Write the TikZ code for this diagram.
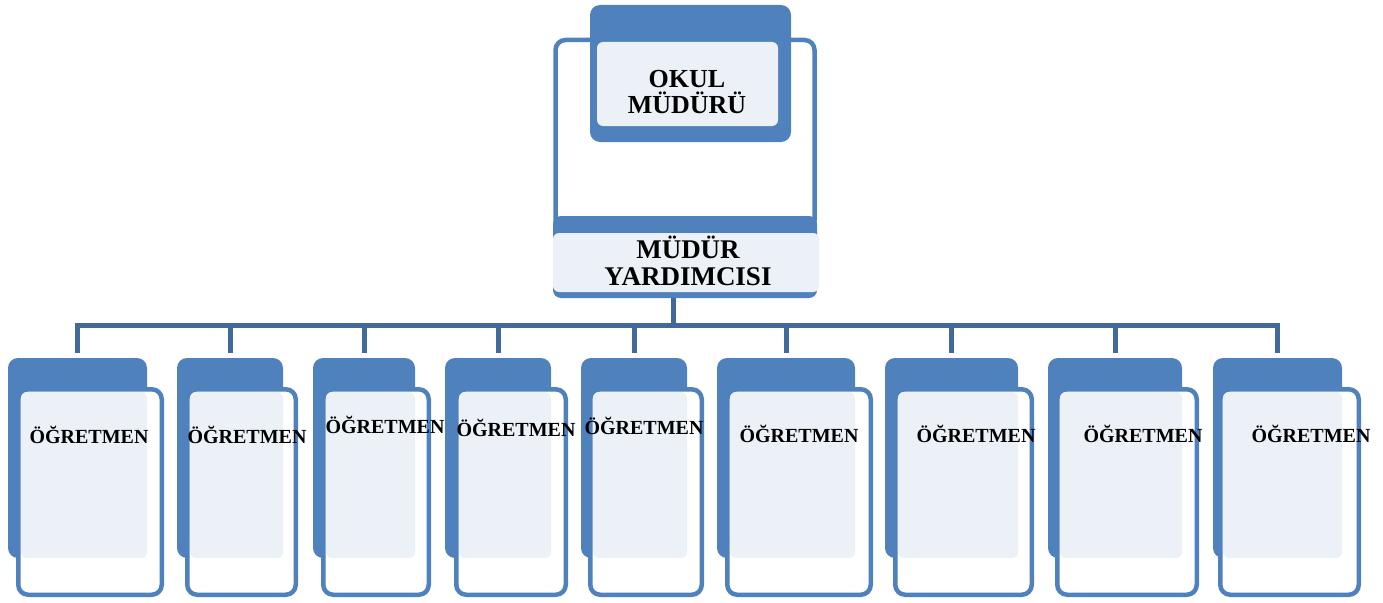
\documentclass[tikz,border=0pt]{standalone}
\usepackage{fontspec}
\setmainfont{Liberation Serif}
\definecolor{tabblue}{RGB}{79,129,189}
\definecolor{panefill}{RGB}{236,241,247}
\definecolor{linkblue}{RGB}{65,105,155}

\begin{document}
\begin{tikzpicture}[x=1pt, y=-1pt,
    tab/.style={fill=tabblue, rounded corners=10pt, inner sep=0pt, outer sep=0pt},
    frame/.style={draw=tabblue, line width=4.5pt, fill=white, rounded corners=10pt, inner sep=0pt, outer sep=0pt},
    pane/.style={fill=panefill, rounded corners=6pt, inner sep=0pt, outer sep=0pt},
    title/.style={font=\bfseries\fontsize{26}{26}\selectfont, align=center, inner sep=0pt},
    label/.style={font=\bfseries\fontsize{20}{22}\selectfont, inner sep=0pt},
    link/.style={draw=linkblue, line width=5pt}
  ]
    \useasboundingbox (0,0) rectangle (1383,602);

    % okul muduru
    \node[frame, minimum width=259pt, minimum height=190pt] (headframe) at (685,135) {};
    \node[tab, minimum width=201pt, minimum height=137pt] (headtab) at (690.5,73.5) {};
    \node[pane, minimum width=181pt, minimum height=84pt] (headpane) at (687.5,84) {};
    \node[title] (head) at (687,92) {OKUL\\MÜDÜRÜ};

    % mudur yardimcisi
    \node[tab, rounded corners=8pt, minimum width=264pt, minimum height=82pt] (deptab) at (685,257) {};
    \node[pane, minimum width=266pt, minimum height=59pt] (deppane) at (686,262.5) {};
    \node[title, font=\bfseries\fontsize{27}{27}\selectfont] (dep) at (688,261) {MÜDÜR\\YARDIMCISI};

    % ogretmenler
    \foreach \i/\aL/\aR/\bL/\bR/\tx/\ty in {1/8/147/16/164/89/437, 2/177/283/185/298/247/437,
        3/313/415/321/431/385/427, 4/445/551/454/568/516/430, 5/581/687/588/704/644/428,
        6/717/855/725/873/799/436, 7/885/1018/893/1034/976/436, 8/1048/1182/1055/1199/1143/436,
        9/1213/1342/1218/1361/1311/436} {
      \node[tab, minimum width={(\aR-\aL)*1pt}, minimum height=200pt] (tab\i) at ({(\aL+\aR)/2},458) {};
      \node[frame, minimum width={(\bR-\bL-4.5)*1pt}, minimum height=205.5pt] (frame\i) at ({(\bL+\bR)/2},492) {};
      \node[pane, minimum width={(\aR-\bL-5)*1pt}, minimum height=166pt] (pane\i) at ({(\bL+5+\aR)/2},475) {};
      \node[label, anchor=base] (teacher\i) at (\tx,{\ty+6.5}) {ÖĞRETMEN};
    }

    % baglantilar
    \coordinate (bus) at (673,325);
    \draw[link] (deptab.south -| bus) -- (bus);
    \draw[link, line join=miter] ([yshift=5pt]tab1.north) -- (tab1.north |- bus) -- (tab9.north |- bus) -- ([yshift=5pt]tab9.north);
    \foreach \i in {2,...,8}
      \draw[link] (tab\i.north |- bus) -- ([yshift=5pt]tab\i.north);
  \end{tikzpicture}
\end{document}
